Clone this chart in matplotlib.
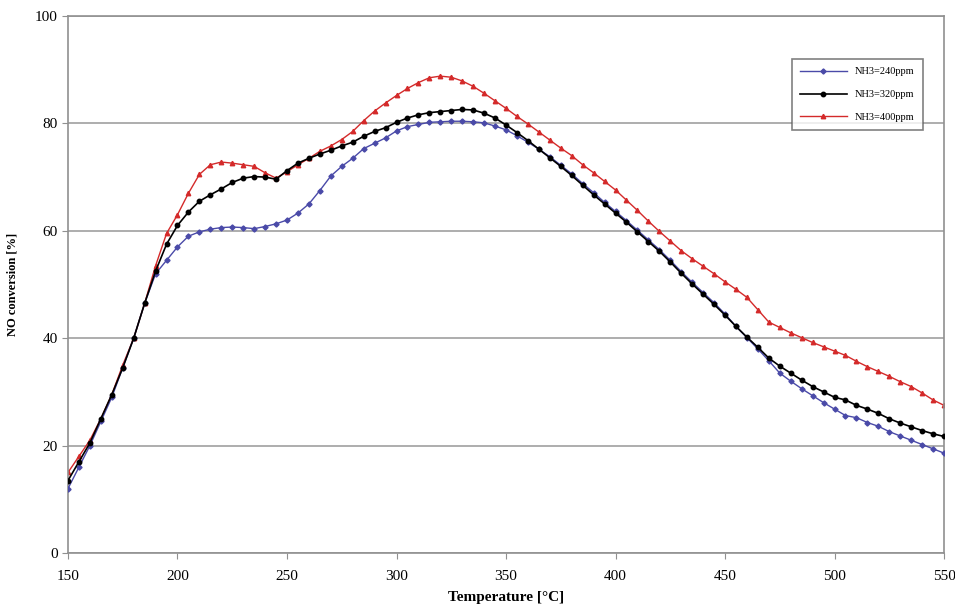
import numpy as np
import matplotlib.pyplot as plt

temperatura = np.arange(150, 551, 5)

nh3_240 = [12, 16, 20, 24.5, 29, 34.5, 40, 46.5, 52, 54.5,
           57, 59, 59.8, 60.3, 60.6, 60.7, 60.6, 60.4, 60.8, 61.3,
           62, 63.3, 65, 67.5, 70.2, 72, 73.5, 75.3, 76.3, 77.3,
           78.6, 79.4, 79.8, 80.2, 80.3, 80.4, 80.4, 80.3, 80.1, 79.5,
           78.8, 77.7, 76.5, 75.2, 73.8, 72.2, 70.6, 68.8, 67.1, 65.3,
           63.6, 61.9, 60.1, 58.3, 56.5, 54.5, 52.4, 50.4, 48.5, 46.6,
           44.5, 42.2, 40.1, 38, 35.8, 33.5, 32, 30.6, 29.3, 28,
           26.8, 25.6, 25.2, 24.3, 23.6, 22.6, 21.8, 21, 20.2, 19.4,
           18.6]

nh3_320 = [13.5, 17, 20.5, 25, 29.5, 34.5, 40, 46.5, 52.5, 57.5,
           61, 63.5, 65.5, 66.7, 67.8, 69, 69.8, 70.1, 70, 69.6,
           71.2, 72.6, 73.5, 74.3, 75, 75.8, 76.5, 77.6, 78.5, 79.2,
           80.2, 81, 81.6, 82, 82.2, 82.4, 82.6, 82.5, 81.9, 81,
           79.7, 78.3, 76.8, 75.2, 73.6, 72, 70.3, 68.5, 66.7, 65,
           63.3, 61.6, 59.8, 58, 56.2, 54.2, 52.1, 50.1, 48.2, 46.3,
           44.3, 42.2, 40.2, 38.3, 36.3, 34.8, 33.5, 32.2, 31, 30,
           29, 28.5, 27.5, 26.8, 26, 25, 24.2, 23.5, 22.8, 22.2,
           21.7]

nh3_400 = [15, 18, 21, 25, 29.5, 35, 40, 46.5, 53.5, 59.5,
           63, 67, 70.5, 72.3, 72.8, 72.6, 72.3, 72, 70.8, 69.8,
           71, 72.3, 73.5, 74.8, 75.8, 77, 78.5, 80.5, 82.3, 83.8,
           85.2, 86.5, 87.6, 88.5, 88.8, 88.6, 87.9, 86.9, 85.6, 84.2,
           82.8, 81.3, 79.9, 78.4, 76.9, 75.4, 74, 72.3, 70.8, 69.2,
           67.6, 65.7, 63.8, 61.8, 59.9, 58.1, 56.3, 54.8, 53.4, 52,
           50.5, 49.1, 47.6, 45.3, 43, 42, 41, 40.1, 39.2, 38.4,
           37.6, 36.8, 35.7, 34.7, 33.8, 32.9, 31.9, 31, 29.8, 28.5,
           27.5]

plt.rcParams['font.family'] = ['Liberation Serif', 'DejaVu Serif']

fig = plt.figure(figsize=(9.55, 6.15), dpi=100)
ax = fig.add_axes([0.0712, 0.1008, 0.9173, 0.8732])

ax.plot(temperatura, nh3_240, color='#4a4aa8', marker='D', markersize=2.6,
        linewidth=1, label='NH3=240ppm', zorder=3)
ax.plot(temperatura, nh3_320, color='black', marker='o', markersize=3.2,
        linewidth=1.2, label='NH3=320ppm', zorder=4)
ax.plot(temperatura, nh3_400, color='#d42a2a', marker='^', markersize=3.2,
        linewidth=1, label='NH3=400ppm', zorder=2)

ax.set_xlim(150, 550)
ax.set_ylim(0, 100)
ax.set_xticks(range(150, 551, 50))
ax.set_yticks(range(0, 101, 20))
ax.yaxis.grid(True, color='#a0a0a0', linewidth=1.2)
ax.set_axisbelow(True)
for s in ax.spines.values():
    s.set_color('#909090')
    s.set_linewidth(1.2)
ax.tick_params(direction='out', length=4, color='#909090', labelsize=11)
ax.tick_params(axis='x', pad=8)

ax.set_xlabel('Temperature [°C]', fontsize=11, fontweight='bold', labelpad=6)
ax.set_ylabel('NO conversion [%]', fontsize=9, fontweight='bold', labelpad=12)

leg = ax.legend(loc='upper right', bbox_to_anchor=(0.982, 0.93), fontsize=7.5,
                frameon=True, fancybox=False, edgecolor='#606060',
                borderpad=0.8, labelspacing=1.3, handlelength=4.5)
leg.get_frame().set_linewidth(1.2)

fig.savefig('out.png', dpi=100)
